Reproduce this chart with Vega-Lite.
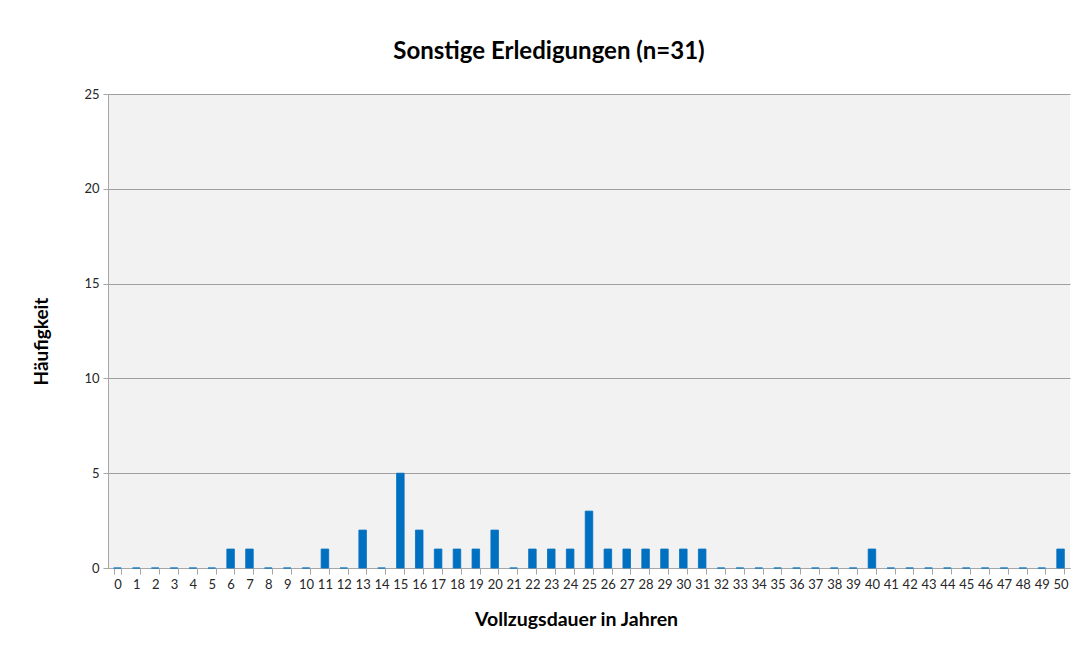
{
  "$schema": "https://vega.github.io/schema/vega-lite/v6.json",
  "width": 962,
  "height": 474,
  "autosize": {"type": "none"},
  "padding": {"left": 108, "top": 94, "right": 13, "bottom": 80},
  "background": "white",
  "title": {
    "text": "Sonstige Erledigungen (n=31)",
    "font": "Lato",
    "fontSize": 24,
    "fontWeight": "bold",
    "color": "#000000",
    "anchor": "middle",
    "offset": 24,
    "dx": -40
  },
  "data": {
    "values": [
      {"jahre": 0, "anzahl": 0}, {"jahre": 1, "anzahl": 0}, {"jahre": 2, "anzahl": 0},
      {"jahre": 3, "anzahl": 0}, {"jahre": 4, "anzahl": 0}, {"jahre": 5, "anzahl": 0},
      {"jahre": 6, "anzahl": 1}, {"jahre": 7, "anzahl": 1}, {"jahre": 8, "anzahl": 0},
      {"jahre": 9, "anzahl": 0}, {"jahre": 10, "anzahl": 0}, {"jahre": 11, "anzahl": 1},
      {"jahre": 12, "anzahl": 0}, {"jahre": 13, "anzahl": 2}, {"jahre": 14, "anzahl": 0},
      {"jahre": 15, "anzahl": 5}, {"jahre": 16, "anzahl": 2}, {"jahre": 17, "anzahl": 1},
      {"jahre": 18, "anzahl": 1}, {"jahre": 19, "anzahl": 1}, {"jahre": 20, "anzahl": 2},
      {"jahre": 21, "anzahl": 0}, {"jahre": 22, "anzahl": 1}, {"jahre": 23, "anzahl": 1},
      {"jahre": 24, "anzahl": 1}, {"jahre": 25, "anzahl": 3}, {"jahre": 26, "anzahl": 1},
      {"jahre": 27, "anzahl": 1}, {"jahre": 28, "anzahl": 1}, {"jahre": 29, "anzahl": 1},
      {"jahre": 30, "anzahl": 1}, {"jahre": 31, "anzahl": 1}, {"jahre": 32, "anzahl": 0},
      {"jahre": 33, "anzahl": 0}, {"jahre": 34, "anzahl": 0}, {"jahre": 35, "anzahl": 0},
      {"jahre": 36, "anzahl": 0}, {"jahre": 37, "anzahl": 0}, {"jahre": 38, "anzahl": 0},
      {"jahre": 39, "anzahl": 0}, {"jahre": 40, "anzahl": 1}, {"jahre": 41, "anzahl": 0},
      {"jahre": 42, "anzahl": 0}, {"jahre": 43, "anzahl": 0}, {"jahre": 44, "anzahl": 0},
      {"jahre": 45, "anzahl": 0}, {"jahre": 46, "anzahl": 0}, {"jahre": 47, "anzahl": 0},
      {"jahre": 48, "anzahl": 0}, {"jahre": 49, "anzahl": 0}, {"jahre": 50, "anzahl": 1}
    ]
  },
  "mark": {"type": "bar", "color": "#0070C0", "stroke": "#0070C0", "strokeWidth": 0.8},
  "encoding": {
    "x": {
      "field": "jahre",
      "type": "ordinal",
      "title": "Vollzugsdauer in Jahren",
      "scale": {"paddingInner": 0.6, "paddingOuter": 0.3},
      "axis": {
        "labelAngle": 0,
        "labelFont": "Lato",
        "labelFontSize": 13,
        "labelColor": "#262626",
        "labelPadding": 4,
        "tickBand": "extent",
        "tickColor": "#A6A6A6",
        "tickSize": 6,
        "domainColor": "#A6A6A6",
        "titleFont": "Lato",
        "titleFontSize": 19.5,
        "titleFontWeight": "bold",
        "titleColor": "#000000",
        "titlePadding": 19,
        "titleX": 468
      }
    },
    "y": {
      "field": "anzahl",
      "type": "quantitative",
      "title": "Häufigkeit",
      "scale": {"domain": [0, 25]},
      "axis": {
        "values": [0, 5, 10, 15, 20, 25],
        "labelFont": "Lato",
        "labelFontSize": 13,
        "labelColor": "#262626",
        "labelPadding": 4,
        "tickColor": "#A6A6A6",
        "tickSize": 5,
        "domainColor": "#A6A6A6",
        "gridColor": "#A0A0A0",
        "titleFont": "Lato",
        "titleFontSize": 19,
        "titleFontWeight": "bold",
        "titleColor": "#000000",
        "titlePadding": 32,
        "titleY": 247
      }
    }
  },
  "config": {
    "view": {"fill": "#F2F2F2", "stroke": null}
  }
}
